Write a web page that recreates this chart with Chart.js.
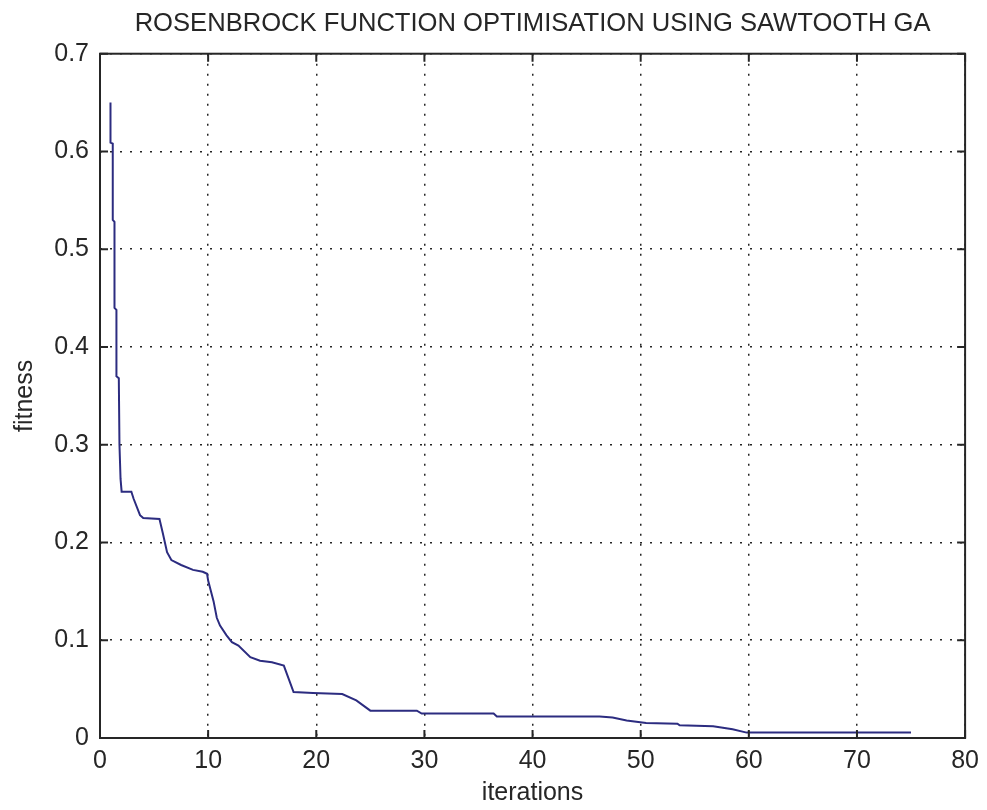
<!DOCTYPE html>
<html>
<head>
    <meta charset="UTF-8">
    <title>Rosenbrock GA</title>
    <script src="https://cdn.jsdelivr.net/npm/chart.js@4/dist/chart.umd.min.js"></script>
    <style>
        html, body { margin: 0; padding: 0; background: #fff; }
        #wrap { width: 987px; height: 810px; }
    </style>
</head>
<body>
    <div id="wrap"><canvas id="myChart"></canvas></div>
    <script>

        // best fitness per iteration
        var iterations = [0.97, 0.97, 1.18, 1.18, 1.34, 1.34, 1.52, 1.52, 1.74, 1.8, 1.9, 2.0, 2.9, 3.1, 3.7, 4.0,
            5.5, 5.8, 6.2, 6.6, 7.5, 8.6, 9.5, 9.9, 10.0, 10.5, 10.8, 11.1, 11.7, 12.2, 12.8, 13.9, 14.8, 15.9,
            17.0, 17.4, 17.9, 19.7, 22.4, 23.7, 25.0, 29.3, 29.75, 36.4, 36.7, 46.2, 47.4, 48.7, 50.5, 53.4,
            53.6, 56.7, 58.5, 59.8, 75.0];
        var fitness = [0.65, 0.609, 0.608, 0.53, 0.528, 0.44, 0.438, 0.37, 0.368, 0.30, 0.265, 0.252, 0.252, 0.245, 0.228, 0.225,
            0.224, 0.21, 0.19, 0.182, 0.177, 0.172, 0.17, 0.168, 0.161, 0.14, 0.123, 0.115, 0.105, 0.098, 0.0945, 0.0826, 0.079, 0.0775,
            0.074, 0.062, 0.047, 0.046, 0.045, 0.0384, 0.028, 0.028, 0.025, 0.025, 0.022, 0.022, 0.021, 0.018, 0.0153, 0.0147,
            0.013, 0.012, 0.0089, 0.0055, 0.0055];

        var xTicks = [0, 10, 20, 30, 40, 50, 60, 70, 80];
        var yTicks = [0, 0.1, 0.2, 0.3, 0.4, 0.5, 0.6, 0.7];

        var points = [];
        for (var i = 0; i < iterations.length; i++) {
            points.push({ x: iterations[i], y: fitness[i] });
        }

        var fontFamily = '"Liberation Sans", Arial, Helvetica, sans-serif';
        var ink = '#262626';

        // matlab style frame with inward tick marks, title centred over the plot box
        const boxTicks = {
            id: 'boxTicks',
            afterLayout(chart) {
                if (chart.titleBlock) {
                    chart.titleBlock.left = chart.chartArea.left;
                    chart.titleBlock.right = chart.chartArea.right;
                }
            },
            afterDraw(chart) {
                const { ctx, chartArea: a, scales: { x, y } } = chart;
                ctx.save();
                ctx.strokeStyle = ink;
                ctx.lineWidth = 2;
                ctx.beginPath();
                x.ticks.forEach(t => {
                    const px = x.getPixelForValue(t.value);
                    ctx.moveTo(px, a.bottom); ctx.lineTo(px, a.bottom - 8);
                    ctx.moveTo(px, a.top); ctx.lineTo(px, a.top + 8);
                });
                y.ticks.forEach(t => {
                    const py = y.getPixelForValue(t.value);
                    ctx.moveTo(a.left, py); ctx.lineTo(a.left + 8, py);
                    ctx.moveTo(a.right, py); ctx.lineTo(a.right - 8, py);
                });
                ctx.stroke();
                ctx.strokeRect(a.left, a.top, a.right - a.left, a.bottom - a.top);
                ctx.restore();
            }
        };

        const config = {
            type: 'scatter',
            data: {
                datasets: [{
                    label: 'fitness',
                    data: points,
                    showLine: true,
                    borderColor: '#2c2c80',
                    borderWidth: 2,
                    pointRadius: 0,
                    tension: 0
                }]
            },
            options: {
                responsive: true,
                maintainAspectRatio: false,
                animation: false,
                layout: { padding: { left: 0, right: 19, top: 0, bottom: 0 } },
                plugins: {
                    legend: { display: false },
                    tooltip: { enabled: false },
                    title: {
                        display: true,
                        text: 'ROSENBROCK FUNCTION OPTIMISATION USING SAWTOOTH GA',
                        color: ink,
                        font: { family: fontFamily, size: 25.6, weight: 'normal' },
                        padding: { top: 9, bottom: 14 }
                    }
                },
                scales: {
                    x: {
                        type: 'linear',
                        min: 0,
                        max: 80,
                        afterBuildTicks: s => { s.ticks = xTicks.map(v => ({ value: v })); },
                        afterFit: s => { s.height = 72; },
                        ticks: { color: ink, padding: 8, font: { family: fontFamily, size: 25 } },
                        grid: { color: ink, lineWidth: 1.5, drawTicks: false },
                        border: { display: false, dash: [2, 8] },
                        title: {
                            display: true, text: 'iterations', color: ink,
                            font: { family: fontFamily, size: 25 },
                            padding: { top: 0, bottom: 2 }
                        }
                    },
                    y: {
                        min: 0,
                        max: 0.7,
                        afterBuildTicks: s => { s.ticks = yTicks.map(v => ({ value: v })); },
                        afterFit: s => { s.width = 100; },
                        ticks: { color: ink, padding: 11, font: { family: fontFamily, size: 25 } },
                        grid: { color: ink, lineWidth: 1.5, drawTicks: false },
                        border: { display: false, dash: [2, 8] },
                        title: {
                            display: true, text: 'fitness', color: ink,
                            font: { family: fontFamily, size: 25 },
                            padding: { top: 10, bottom: 0 }
                        }
                    }
                }
            },
            plugins: [boxTicks]
        };

        var myChart = new Chart(document.getElementById('myChart'), config);

    </script>
</body>
</html>
